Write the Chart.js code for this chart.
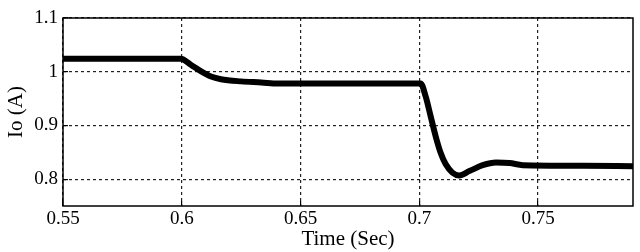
<!DOCTYPE html>
<html>
<head>
<meta charset="utf-8">
<script src="https://cdn.jsdelivr.net/npm/chart.js@4/dist/chart.umd.min.js"></script>
<style>
  html, body { margin: 0; padding: 0; background: #fff; }
  #wrap { width: 640px; height: 252px; }
</style>
</head>
<body>
<div id="wrap"><canvas id="ioChart"></canvas></div>
<script>
// Io (A) vs time
const timeSec = [0.55, 0.5996, 0.6038, 0.608, 0.6123, 0.6165, 0.625, 0.6335, 0.6405, 0.6928,
    0.7006, 0.7027, 0.7048, 0.7069, 0.709, 0.7111, 0.714, 0.7168, 0.7211, 0.7267,
    0.7323, 0.738, 0.7436, 0.769, 0.79];
const ioAmps = [1.024, 1.024, 1.013, 1.001, 0.991, 0.986, 0.982, 0.980, 0.978, 0.978,
    0.978, 0.954, 0.917, 0.880, 0.849, 0.828, 0.812, 0.807, 0.815, 0.826,
    0.831, 0.830, 0.826, 0.825, 0.824];
const xTicks = [0.55, 0.6, 0.65, 0.7, 0.75];
const yTicks = [0.8, 0.9, 1, 1.1];

const points = timeSec.map((t, i) => ({ x: t, y: ioAmps[i] }));

// box round the plot (Chart.js only draws left/bottom)
const frame = {
    id: 'frame',
    afterDraw(chart) {
        const { ctx, chartArea: a } = chart;
        ctx.save();
        ctx.strokeStyle = '#000';
        ctx.lineWidth = 1.5;
        ctx.strokeRect(a.left, a.top, a.right - a.left, a.bottom - a.top);
        ctx.restore();
    }
};

const tickFont = { family: 'Liberation Serif', size: 19 };
const titleFont = { family: 'Liberation Serif', size: 21 };

// dotted grid, short solid tick marks pointing into the plot
const gridOpts = {
    color: '#222',
    lineWidth: 1.2,
    drawTicks: true,
    tickLength: -5,
    tickColor: '#000',
    tickWidth: 1.2,
    tickBorderDash: []
};

new Chart(document.getElementById('ioChart').getContext('2d'), {
    type: 'line',
    data: {
        datasets: [{
            data: points,
            borderColor: '#000',
            borderWidth: 6,
            pointRadius: 0,
            cubicInterpolationMode: 'monotone',
            fill: false
        }]
    },
    options: {
        responsive: true,
        maintainAspectRatio: false,
        animation: false,
        layout: { padding: { top: 18, right: 7, left: 0, bottom: 0 } },
        plugins: { legend: { display: false }, tooltip: { enabled: false } },
        scales: {
            x: {
                type: 'linear',
                min: 0.55,
                max: 0.79,
                afterBuildTicks: s => { s.ticks = xTicks.map(v => ({ value: v })); },
                afterFit: s => { s.height = 46; s.paddingLeft = 0; s.paddingRight = 0; },
                ticks: {
                    color: '#000', font: tickFont, padding: 7, maxRotation: 0,
                    callback: v => String(v)
                },
                grid: gridOpts,
                border: { display: false, dash: [3, 3] },
                title: {
                    display: true, text: 'Time (Sec)', color: '#000',
                    font: titleFont, padding: { top: 0, bottom: 0 }
                }
            },
            y: {
                min: 0.75,
                max: 1.1,
                afterBuildTicks: s => { s.ticks = yTicks.map(v => ({ value: v })); },
                afterFit: s => { s.width = 63; s.paddingTop = 0; s.paddingBottom = 0; },
                ticks: {
                    color: '#000', font: tickFont, padding: 10,
                    callback: v => String(v)
                },
                grid: gridOpts,
                border: { display: false, dash: [3, 3] },
                title: {
                    display: true, text: 'Io (A)', color: '#000',
                    font: titleFont, padding: { top: 4, bottom: 0 }
                }
            }
        }
    },
    plugins: [frame]
});
</script>
</body>
</html>
